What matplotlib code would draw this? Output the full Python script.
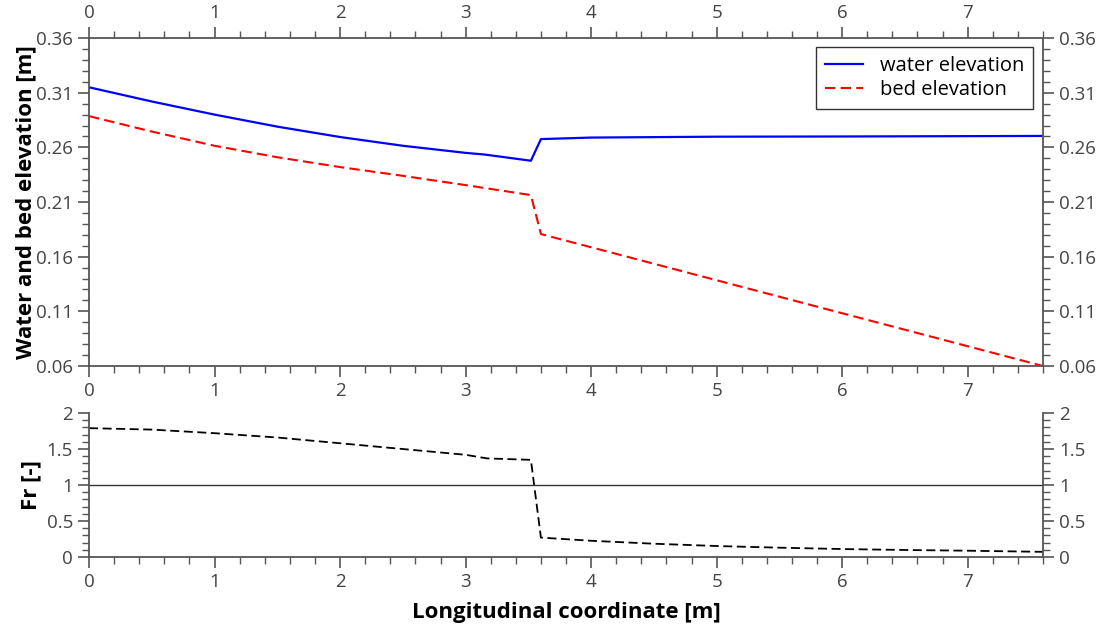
import matplotlib
matplotlib.use("Agg")
import matplotlib.pyplot as plt
from matplotlib.ticker import MultipleLocator

plt.rcParams['font.family'] = ['Open Sans', 'DejaVu Sans']

# profilo longitudinale
x_water = [0.0, 0.5, 1.0, 1.5, 2.0, 2.5, 3.0, 3.15, 3.52, 3.6, 4.0, 5.0, 6.0, 7.0, 7.6]
water = [0.315, 0.302, 0.290, 0.279, 0.2695, 0.2615, 0.255, 0.2535, 0.2478,
         0.2676, 0.269, 0.2698, 0.270, 0.2703, 0.2705]

x_bed = [0.0, 0.5, 1.0, 1.5, 2.0, 2.5, 3.0, 3.52, 3.6, 7.6]
bed = [0.2886, 0.2745, 0.2615, 0.251, 0.242, 0.234, 0.2255, 0.2164, 0.1807, 0.06]

x_fr = [0.0, 0.5, 1.0, 1.5, 2.0, 2.5, 3.0, 3.17, 3.52, 3.6, 4.0, 4.5, 5.0, 5.5, 6.0, 6.5, 7.0, 7.6]
froude = [1.79, 1.77, 1.72, 1.66, 1.58, 1.50, 1.42, 1.37, 1.35, 0.27, 0.226, 0.185,
          0.153, 0.13, 0.111, 0.098, 0.088, 0.072]

tick_col = '#444444'
spine_col = '#555555'
lab_size = 13.5

fig = plt.figure(figsize=(11.09, 6.33), dpi=100)
ax1 = fig.add_axes([0.0803, 0.4218, 0.8602, 0.518])
ax2 = fig.add_axes([0.0803, 0.120, 0.8602, 0.2275])

ax1.plot(x_water, water, color='#0000ff', lw=1.6, label='water elevation')
ax1.plot(x_bed, bed, color='#ff0000', lw=1.5, ls=(0, (5, 2.5)), label='bed elevation')
ax1.set_xlim(0, 7.6)
ax1.set_ylim(0.06, 0.36)
ax1.yaxis.set_minor_locator(MultipleLocator(0.01))
ax1.set_yticks([0.06, 0.11, 0.16, 0.21, 0.26, 0.31, 0.36])
ax1.set_yticklabels(['0.06', '0.11', '0.16', '0.21', '0.26', '0.31', '0.36'])
ax1.set_ylabel('Water and bed elevation [m]', fontsize=16, fontweight='bold')
ax1.tick_params(which='both', direction='out', top=True, right=True,
                labeltop=True, labelright=True, labelbottom=True,
                colors=spine_col, labelcolor=tick_col, labelsize=lab_size)
leg = ax1.legend(loc='upper right', fontsize=14.5, frameon=True, fancybox=False,
                 handlelength=1.9, borderpad=0.45, labelspacing=0.2,
                 bbox_to_anchor=(0.9895, 0.9726), borderaxespad=0)
leg.get_frame().set_edgecolor('black')
leg.get_frame().set_linewidth(1.0)

ax2.plot(x_fr, froude, color='black', lw=1.3, ls=(0, (5, 2.5)))
ax2.axhline(1, color='#333333', lw=1.0)
ax2.set_xlim(0, 7.6)
ax2.set_ylim(0, 2)
ax2.yaxis.set_minor_locator(MultipleLocator(0.1))
ax2.set_yticks([0, 0.5, 1, 1.5, 2])
ax2.set_yticklabels(['0', '0.5', '1', '1.5', '2'])
ax2.spines['top'].set_visible(False)
ax2.set_ylabel('Fr [-]', fontsize=16, fontweight='bold')
ax2.set_xlabel('Longitudinal coordinate [m]', fontsize=16, fontweight='bold', labelpad=8)
ax2.tick_params(which='both', direction='out', right=True, labelright=True,
                colors=spine_col, labelcolor=tick_col, labelsize=lab_size)

for ax in (ax1, ax2):
    ax.xaxis.set_major_locator(MultipleLocator(1))
    ax.xaxis.set_minor_locator(MultipleLocator(0.2))
    ax.tick_params(which='major', length=8, width=1.2)
    ax.tick_params(which='minor', length=5, width=1.0)
    for s in ax.spines.values():
        s.set_color(spine_col)
        s.set_linewidth(1.3)

ax1.yaxis.set_label_coords(-0.055, 0.5)
ax2.yaxis.set_label_coords(-0.05, 0.5)

fig.savefig('out.png', dpi=100)
